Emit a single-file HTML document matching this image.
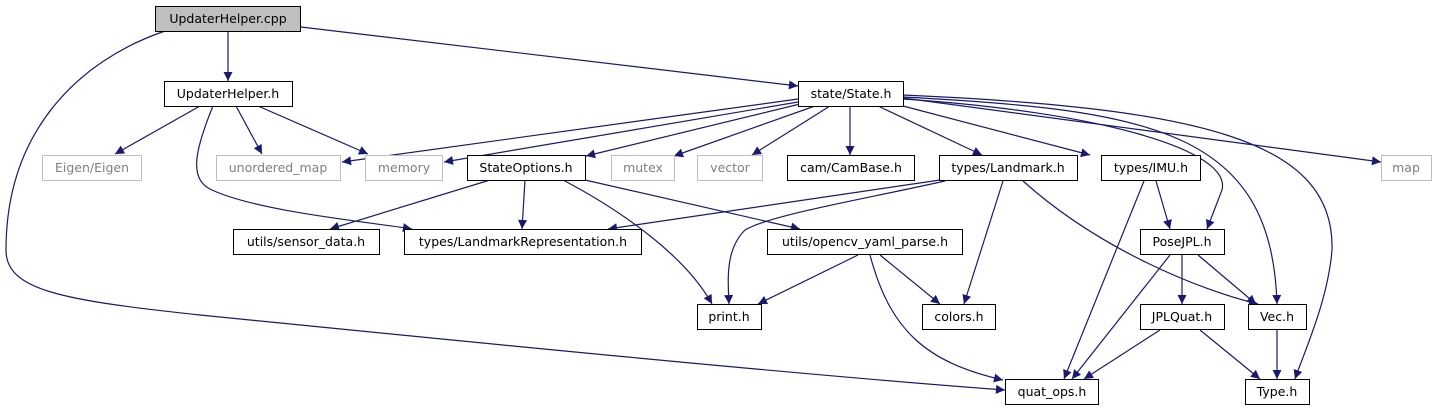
<!DOCTYPE html>
<html><head><meta charset="utf-8"><style>
html,body{margin:0;padding:0;background:#fff;}
svg text{font-family:"DejaVu Sans","Liberation Sans",sans-serif;font-size:12.5px;text-anchor:middle;}
</style></head><body>
<svg width="1437" height="411" viewBox="0 0 1437 411" xmlns="http://www.w3.org/2000/svg">
<defs><marker id="a" viewBox="0 0 10 10" refX="10" refY="5" markerWidth="11" markerHeight="9" markerUnits="userSpaceOnUse" orient="auto"><path d="M0,0 L10,5 L0,10 z" fill="#191970"/></marker></defs>
<g fill="none" stroke="#191970" stroke-width="1.2" marker-end="url(#a)">
<path d="M228,31 L228,81"/>
<path d="M301,27 L798,86"/>
<path d="M165,31 C80,60 6,130 6,250 C6,290 60,300 200,315 C450,340 800,375 1005,390"/>
<path d="M200,106 L115,154"/>
<path d="M236,106 L262,154"/>
<path d="M258,106 L368,154"/>
<path d="M213,106 C195,150 188,180 212,190 C260,212 370,222 412,229"/>
<path d="M798,99 L342,162"/>
<path d="M798,102 L444,162"/>
<path d="M800,104 L586,156"/>
<path d="M815,106 L674,156"/>
<path d="M830,106 L752,155"/>
<path d="M850,106 L850,155"/>
<path d="M878,106 L982,155"/>
<path d="M903,106 L1090,155"/>
<path d="M903,99 C1100,112 1232,150 1222,190 L1207,229"/>
<path d="M903,97 C1150,110 1272,130 1277,304"/>
<path d="M903,95 C1200,108 1335,140 1332,250 C1328,300 1305,350 1295,379"/>
<path d="M903,98 L1381,162"/>
<path d="M490,180 L330,229"/>
<path d="M525,180 L522,229"/>
<path d="M563,180 C620,210 685,255 712,304"/>
<path d="M585,180 L800,229"/>
<path d="M940,180 L608,229"/>
<path d="M945,181 C860,200 770,215 745,230 C725,250 728,280 729,304"/>
<path d="M1003,181 L964,304"/>
<path d="M1023,181 C1100,250 1200,290 1258,304"/>
<path d="M1156,181 L1170,229"/>
<path d="M1144,181 L1064,379"/>
<path d="M858,255 L758,304"/>
<path d="M880,255 L940,304"/>
<path d="M870,255 C890,330 925,362 1003,380"/>
<path d="M1182,255 L1182,304"/>
<path d="M1198,255 L1256,304"/>
<path d="M1170,255 L1072,379"/>
<path d="M1160,330 L1084,379"/>
<path d="M1200,330 L1260,379"/>
<path d="M1277,330 L1277,379"/>
</g>
<g stroke-width="1">
<rect x="155.5" y="6.5" width="145" height="25" fill="#bfbfbf" stroke="#000"/>
<rect x="164.5" y="81.5" width="128" height="25" fill="#fff" stroke="#000"/>
<rect x="798.5" y="81.5" width="105" height="25" fill="#fff" stroke="#000"/>
<rect x="42.5" y="155.5" width="99" height="25" fill="#fff" stroke="#bfbfbf"/>
<rect x="216.5" y="155.5" width="124" height="25" fill="#fff" stroke="#bfbfbf"/>
<rect x="365.5" y="155.5" width="77" height="25" fill="#fff" stroke="#bfbfbf"/>
<rect x="467.5" y="155.5" width="118" height="25" fill="#fff" stroke="#000"/>
<rect x="611.5" y="155.5" width="63" height="25" fill="#fff" stroke="#bfbfbf"/>
<rect x="697.5" y="155.5" width="65" height="25" fill="#fff" stroke="#bfbfbf"/>
<rect x="787.5" y="155.5" width="127" height="25" fill="#fff" stroke="#000"/>
<rect x="939.5" y="155.5" width="138" height="25" fill="#fff" stroke="#000"/>
<rect x="1101.5" y="155.5" width="99" height="25" fill="#fff" stroke="#000"/>
<rect x="1381.5" y="155.5" width="50" height="25" fill="#fff" stroke="#bfbfbf"/>
<rect x="233.5" y="229.5" width="146" height="25" fill="#fff" stroke="#000"/>
<rect x="404.5" y="229.5" width="237" height="25" fill="#fff" stroke="#000"/>
<rect x="767.5" y="229.5" width="195" height="25" fill="#fff" stroke="#000"/>
<rect x="1140.5" y="229.5" width="84" height="25" fill="#fff" stroke="#000"/>
<rect x="697.5" y="304.5" width="64" height="25" fill="#fff" stroke="#000"/>
<rect x="922.5" y="304.5" width="73" height="25" fill="#fff" stroke="#000"/>
<rect x="1140.5" y="304.5" width="84" height="25" fill="#fff" stroke="#000"/>
<rect x="1248.5" y="304.5" width="58" height="25" fill="#fff" stroke="#000"/>
<rect x="1005.5" y="379.5" width="93" height="25" fill="#fff" stroke="#000"/>
<rect x="1245.5" y="379.5" width="64" height="25" fill="#fff" stroke="#000"/>
</g>
<g fill="#000">
<text x="228" y="23">UpdaterHelper.cpp</text>
<text x="228" y="98">UpdaterHelper.h</text>
<text x="851" y="98">state/State.h</text>
<text x="526" y="172">StateOptions.h</text>
<text x="851" y="172">cam/CamBase.h</text>
<text x="1008" y="172">types/Landmark.h</text>
<text x="1151" y="172">types/IMU.h</text>
<text x="306" y="246">utils/sensor_data.h</text>
<text x="523" y="246">types/LandmarkRepresentation.h</text>
<text x="865" y="246">utils/opencv_yaml_parse.h</text>
<text x="1182" y="246">PoseJPL.h</text>
<text x="729" y="321">print.h</text>
<text x="959" y="321">colors.h</text>
<text x="1182" y="321">JPLQuat.h</text>
<text x="1277" y="321">Vec.h</text>
<text x="1052" y="396">quat_ops.h</text>
<text x="1277" y="396">Type.h</text>
</g>
<g fill="#7f7f7f">
<text x="92" y="172">Eigen/Eigen</text>
<text x="278" y="172">unordered_map</text>
<text x="404" y="172">memory</text>
<text x="643" y="172">mutex</text>
<text x="730" y="172">vector</text>
<text x="1406" y="172">map</text>
</g>
</svg>
</body></html>
